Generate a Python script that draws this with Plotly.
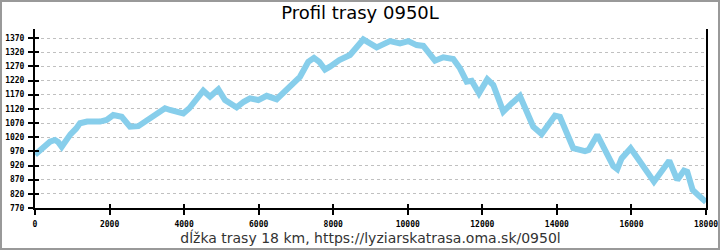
import plotly.graph_objects as go

distance_m = [0, 150, 300, 402, 536, 620, 716, 800, 950, 1100, 1207, 1400, 1744, 1922, 2100,
              2325, 2450, 2548, 2772, 2950, 3219, 3350, 3487, 3621, 3979, 4140, 4300, 4515,
              4694, 4918, 5097, 5250, 5410, 5600, 5767, 5990, 6214, 6482, 6840, 7108, 7331,
              7484, 7626, 7779, 7913, 8163, 8450, 8600, 8807, 9165, 9523, 9791, 10014, 10238,
              10416, 10730, 10952, 11220, 11400, 11580, 11714, 11910, 12133, 12294, 12562,
              12786, 13009, 13366, 13591, 13948, 14082, 14439, 14753, 14850, 15083, 15512,
              15620, 15736, 15978, 16139, 16604, 16765, 17014, 17229, 17409, 17497, 17641,
              17819, 17945, 18000]
elevation_m = [958, 975, 995, 1004, 1010, 1003, 986, 1005, 1030, 1050, 1069, 1075, 1075, 1081,
               1098, 1092, 1075, 1057, 1059, 1075, 1104, 1110, 1122, 1116, 1104, 1122, 1150,
               1184, 1163, 1189, 1151, 1135, 1125, 1145, 1157, 1151, 1166, 1154, 1198, 1233,
               1286, 1300, 1286, 1259, 1269, 1292, 1310, 1330, 1365, 1337, 1359, 1351, 1359,
               1345, 1342, 1290, 1302, 1296, 1263, 1216, 1219, 1175, 1224, 1204, 1110, 1139,
               1165, 1057, 1031, 1096, 1092, 981, 971, 975, 1028, 918, 907, 945, 981, 951,
               863, 892, 937, 869, 902, 898, 834, 812, 796, 791]

x_ticks = [0, 2000, 4000, 6000, 8000, 10000, 12000, 14000, 16000, 18000]
y_ticks = [770, 820, 870, 920, 970, 1020, 1070, 1120, 1170, 1220, 1270, 1320, 1370]

title_text = "Profil trasy 0950L"
x_title = "dĺžka trasy 18 km, https://lyziarskatrasa.oma.sk/0950l"

X_RANGE = [0, 18000]
Y_RANGE = [770, 1401.8]

W, H = 720, 250
ML, MR, MT, MB = 35, 14, 29, 42
PW, PH = W - ML - MR, H - MT - MB

fig = go.Figure()
fig.add_trace(go.Scatter(x=distance_m, y=elevation_m, mode="lines",
                         line=dict(color="#87CEEB", width=6), hoverinfo="skip",
                         showlegend=False))
# invisible trace for inner tick overlay axes
fig.add_trace(go.Scatter(x=[X_RANGE[0]], y=[Y_RANGE[0]], xaxis="x2", yaxis="y2",
                         mode="markers", marker=dict(opacity=0), showlegend=False,
                         hoverinfo="skip"))

tickfont = dict(family="DejaVu Sans Mono", size=8, color="#000", weight="bold")

fig.update_layout(
    width=W, height=H,
    margin=dict(l=ML, r=MR, t=MT, b=MB, pad=0),
    paper_bgcolor="white", plot_bgcolor="white",
    title=dict(text=title_text, x=0.5, xanchor="center", y=1 - 13 / H, yanchor="middle",
               font=dict(family="DejaVu Sans", size=18, color="#000")),
    xaxis=dict(range=X_RANGE, tickvals=x_ticks, ticktext=[str(v) for v in x_ticks],
               automargin=False,
               showgrid=False, zeroline=False, showline=True, linecolor="#000", linewidth=2,
               ticks="outside", ticklen=5, tickwidth=2, tickcolor="#000",
               tickfont=tickfont, ticklabelstandoff=2,
               title=dict(text=x_title, standoff=3,
                          font=dict(family="DejaVu Sans", size=14, color="#333"))),
    yaxis=dict(range=Y_RANGE, tickvals=y_ticks, ticktext=[str(v) for v in y_ticks],
               automargin=False,
               showgrid=True, gridcolor="#c0c0c0", griddash="3px,3px", gridwidth=1,
               zeroline=False, showline=True, linecolor="#000", linewidth=2, mirror=True,
               ticks="outside", ticklen=5, tickwidth=2, tickcolor="#000",
               tickfont=tickfont, ticklabelstandoff=2),
    xaxis2=dict(range=X_RANGE, overlaying="x", tickvals=x_ticks, showticklabels=False,
                automargin=False,
                ticks="inside", ticklen=4, tickwidth=2, tickcolor="#000",
                showgrid=False, zeroline=False, showline=False),
    yaxis2=dict(range=Y_RANGE, overlaying="y", tickvals=y_ticks, showticklabels=False,
                automargin=False,
                ticks="inside", ticklen=4, tickwidth=2, tickcolor="#000",
                showgrid=False, zeroline=False, showline=False),
    shapes=[dict(type="rect", xref="paper", yref="paper",
                 x0=(-ML + 1) / PW, x1=(W - ML - 1) / PW,
                 y0=(-MB + 1) / PH, y1=(H - MB - 1) / PH,
                 line=dict(color="#999", width=2), layer="above")],
)

fig.write_html("out.html")
